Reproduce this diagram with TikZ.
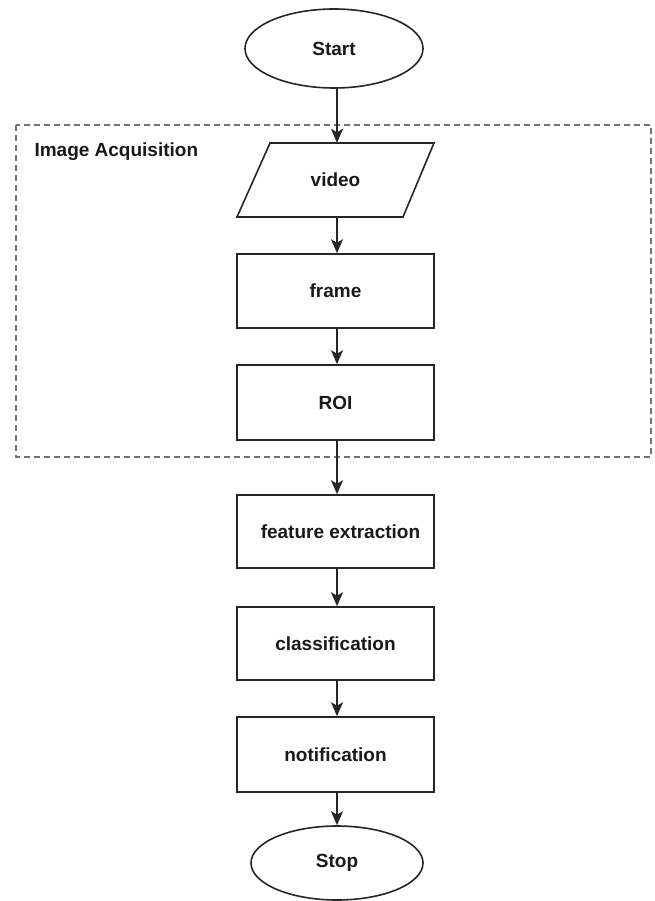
\documentclass[tikz,border=0pt]{standalone}
\usepackage{fontspec}
\setmainfont{Liberation Sans}
\usetikzlibrary{shapes.geometric,arrows.meta,calc}
\begin{document}
\begin{tikzpicture}[x=1pt,y=-1pt,
  every node/.style={font=\bfseries\fontsize{19}{22}\selectfont, text=black!90},
  procbox/.style={draw=black!85, line width=1.6pt, rectangle, minimum width=197pt, inner sep=0pt},
  termbox/.style={draw=black!85, line width=1.6pt, ellipse, inner sep=0pt},
  flow/.style={draw=black!85, line width=1.5pt, -{Stealth[length=14pt,width=12pt,inset=3.5pt]}},
  groupbox/.style={draw=black!55, line width=1.5pt, dash pattern=on 6pt off 4pt}
]
\useasboundingbox (0,0) rectangle (654,901);
\fill[white] (0,0) rectangle (654,901);

% group
\draw[groupbox] (16,125) rectangle (651,457);
\node[anchor=west] (lbl) at (31,152) {Image Acquisition};

% nodes
\node[termbox, minimum width=178pt, minimum height=79pt] (start) at (334,48.5) {Start};
\node[rectangle, minimum width=166pt, minimum height=74pt, inner sep=0pt] (video) at (335.5,180) {video};
\draw[draw=black!85, line width=1.6pt, line join=miter]
  (237,217) -- (403,217) -- (434,143) -- (270,143) -- cycle;
\node[procbox, minimum height=74pt] (frame) at (335.5,291) {frame};
\node[procbox, minimum height=75pt] (roi) at (335.5,402.5) {ROI};
\node[procbox, minimum height=73pt] (feat) at (335.5,531.5) {\hspace*{10pt}feature extraction};
\node[procbox, minimum height=73pt] (cls) at (335.5,643.5) {classification};
\node[procbox, minimum height=75pt] (notif) at (335.5,754.5) {notification};
\node[termbox, minimum width=172pt, minimum height=74pt] (stop) at (337,863) {Stop};

% connectors
\draw[flow] ($(start.south)+(3,0)$) -- ($(video.north)+(1.5,0)$);
\draw[flow] ($(video.south)+(1.5,0)$) -- ($(frame.north)+(1.5,0)$);
\draw[flow] ($(frame.south)+(1.5,0)$) -- ($(roi.north)+(1.5,0)$);
\draw[flow] ($(roi.south)+(1.5,0)$) -- ($(feat.north)+(1.5,0)$);
\draw[flow] ($(feat.south)+(1.5,0)$) -- ($(cls.north)+(1.5,0)$);
\draw[flow] ($(cls.south)+(1.5,0)$) -- ($(notif.north)+(1.5,0)$);
\draw[flow] ($(notif.south)+(1.5,0)$) -- (stop.north);
\end{tikzpicture}
\end{document}
